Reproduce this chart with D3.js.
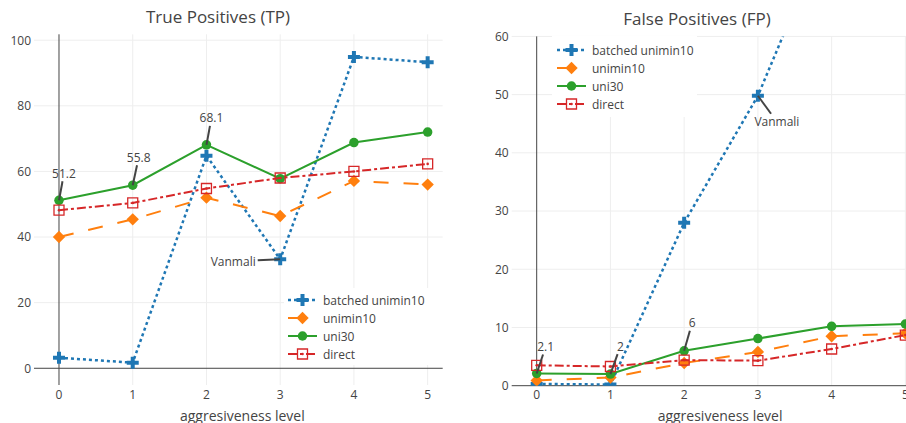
<!DOCTYPE html>
<html>
<head>
<meta charset="utf-8">
<script src="https://cdn.jsdelivr.net/npm/d3@7"></script>
<style>
  body { margin: 0; background: #fff; overflow: hidden; }
  svg { display: block; }
  text { font-family: "Open Sans", verdana, arial, sans-serif; fill: #444; }
</style>
</head>
<body>
<div id="viz"></div>
<script>
// aggresiveness levels on the x axis
var levels = [0, 1, 2, 3, 4, 5];
var xTicks = [0, 1, 2, 3, 4, 5];

// True positives
var tpBatched  = [3.2, 1.7, 64.8, 33.2, 94.9, 93.3];
var tpUnimin10 = [40.0, 45.4, 52.0, 46.4, 57.1, 56.0];
var tpUni30    = [51.2, 55.8, 68.1, 57.8, 68.8, 72.0];
var tpDirect   = [48.2, 50.4, 54.8, 58.0, 60.0, 62.3];
var tpTicks = [0, 20, 40, 60, 80, 100];

// False positives (batched goes off the top at 4 and 5, estimated)
var fpBatched  = [0.3, 0.2, 28.0, 49.8, 80.0, 100.0];
var fpUnimin10 = [0.9, 1.4, 3.9, 5.8, 8.5, 9.0];
var fpUni30    = [2.1, 2.0, 6.0, 8.1, 10.2, 10.6];
var fpDirect   = [3.5, 3.3, 4.4, 4.3, 6.3, 8.7];
var fpTicks = [0, 10, 20, 30, 40, 50, 60];

var seriesNames = ["batched unimin10", "unimin10", "uni30", "direct"];

// annotation texts with the point they belong to
var tpNotes = [[0, 51.2, "51.2"], [1, 55.8, "55.8"], [2, 68.1, "68.1"], [3, 33.2, "Vanmali"]];
var fpNotes = [[0, 2.1, "2.1"], [1, 2.0, "2"], [2, 6.0, "6"], [3, 49.8, "Vanmali"]];

var styles = [
    {color: "#1f77b4", dash: "3,3",        width: 2.5, symbol: "cross"},
    {color: "#ff7f0e", dash: "15,15",      width: 2,   symbol: "diamond"},
    {color: "#2ca02c", dash: null,         width: 2,   symbol: "circle"},
    {color: "#d62728", dash: "9,3,3,3",    width: 2,   symbol: "square-open-dot"}
];

function symbolPath(sym, size) {
    var r = size / 2;
    if (sym == "cross") {
        var rc = r * 0.4, rc2 = r * 1.2;
        return "M" + rc2 + "," + rc + "H" + rc + "V" + rc2 + "H-" + rc + "V" + rc + "H-" + rc2 +
               "V-" + rc + "H-" + rc + "V-" + rc2 + "H" + rc + "V-" + rc + "H" + rc2 + "Z";
    }
    if (sym == "diamond") {
        var rd = r * 1.3;
        return "M" + rd + ",0L0," + rd + "L-" + rd + ",0L0,-" + rd + "Z";
    }
    if (sym == "circle") {
        return "M" + r + ",0A" + r + "," + r + " 0 1,1 0,-" + r + "A" + r + "," + r + " 0 0,1 " + r + ",0Z";
    }
    return "M" + r + "," + r + "H-" + r + "V-" + r + "H" + r + "Z";
}

function addMarker(g, st, x, y) {
    if (st.symbol == "square-open-dot") {
        g.append("path").attr("d", symbolPath("square", 10))
            .attr("transform", "translate(" + x + "," + y + ")")
            .attr("fill", "none").attr("stroke", st.color).attr("stroke-width", 1.3);
        g.append("circle").attr("cx", x).attr("cy", y).attr("r", 1.3).attr("fill", st.color);
    } else {
        g.append("path").attr("d", symbolPath(st.symbol, st.symbol == "cross" ? 10 : 9.5))
            .attr("transform", "translate(" + x + "," + y + ")")
            .attr("fill", st.color);
    }
}

var svg = d3.select("#viz").append("svg").attr("width", 906).attr("height", 423);

function drawPanel(p) {
    var x = d3.scaleLinear().domain(p.xDomain).range(p.xRange);
    var y = d3.scaleLinear().domain(p.yDomain).range(p.yRange);
    var g = svg.append("g");

    var clipId = "clip" + p.id;
    svg.append("clipPath").attr("id", clipId).append("rect")
        .attr("x", p.xRange[0]).attr("y", p.yRange[1])
        .attr("width", p.xRange[1] - p.xRange[0]).attr("height", p.yRange[0] - p.yRange[1]);

    // grid
    g.selectAll(".gx").data(xTicks.filter(function(d) { return d != 0; })).enter().append("line")
        .attr("x1", x).attr("x2", x).attr("y1", p.yRange[1]).attr("y2", p.yRange[0])
        .attr("stroke", "#eee");
    g.selectAll(".gy").data(p.yTicks.filter(function(d) { return d != 0; })).enter().append("line")
        .attr("x1", p.xRange[0]).attr("x2", p.xRange[1]).attr("y1", y).attr("y2", y)
        .attr("stroke", "#eee");

    // legend background covers the grid
    g.append("rect").attr("x", p.legendBox[0]).attr("y", p.legendBox[1])
        .attr("width", p.legendBox[2]).attr("height", p.legendBox[3]).attr("fill", "#fff");

    // zero lines
    g.append("line").attr("x1", x(0)).attr("x2", x(0)).attr("y1", p.yRange[1]).attr("y2", p.yRange[0])
        .attr("stroke", "#444");
    g.append("line").attr("x1", p.xRange[0]).attr("x2", p.xRange[1]).attr("y1", y(0)).attr("y2", y(0))
        .attr("stroke", "#444");

    // tick labels
    g.selectAll(".tx").data(xTicks).enter().append("text")
        .attr("x", x).attr("y", p.yRange[0] + 13.5)
        .attr("text-anchor", "middle").attr("font-size", 12).text(function(d) { return d; });
    g.selectAll(".ty").data(p.yTicks).enter().append("text")
        .attr("x", p.xRange[0] - 3).attr("y", function(d) { return y(d) + 4.3; })
        .attr("text-anchor", "end").attr("font-size", 12).text(function(d) { return d; });

    // titles
    g.append("text").attr("x", p.titleX).attr("y", p.titleY).attr("text-anchor", "middle")
        .attr("font-size", 17).text(p.title);
    g.append("text").attr("x", (p.xRange[0] + p.xRange[1]) / 2 + 4).attr("y", p.yRange[0] + 35.5)
        .attr("text-anchor", "middle").attr("font-size", 14).text("aggresiveness level");

    // traces
    var plot = g.append("g").attr("clip-path", "url(#" + clipId + ")");
    p.series.forEach(function(vals, i) {
        var st = styles[i];
        var tg = plot.append("g");
        var line = d3.line().x(function(d, j) { return x(levels[j]); }).y(function(d) { return y(d); });
        tg.append("path").attr("d", line(vals)).attr("fill", "none")
            .attr("stroke", st.color).attr("stroke-width", st.width)
            .attr("stroke-dasharray", st.dash);
        vals.forEach(function(v, j) { addMarker(tg, st, x(levels[j]), y(v)); });
    });

    // annotations
    p.notes.forEach(function(n, i) {
        var px = x(n[0]), py = y(n[1]);
        var ax = p.noteOffsets[i][0], ay = p.noteOffsets[i][1];
        var t = g.append("text").attr("x", px + ax).attr("y", py + ay + 4.5)
            .attr("text-anchor", "middle").attr("font-size", 12).text(n[2]);
        var hw = t.node().getComputedTextLength() / 2 + 2, hh = 8;
        var s = Math.min(Math.abs(ax) > 0 ? hw / Math.abs(ax) : 1, Math.abs(ay) > 0 ? hh / Math.abs(ay) : 1);
        g.append("line")
            .attr("x1", px + ax - ax * s).attr("y1", py + ay - ay * s)
            .attr("x2", px).attr("y2", py)
            .attr("stroke", "#444").attr("stroke-width", 2);
    });

    // legend
    seriesNames.forEach(function(name, i) {
        var st = styles[i];
        var ly = p.legendY + i * 18;
        var lg = g.append("g");
        lg.append("line").attr("x1", p.legendX).attr("x2", p.legendX + 29).attr("y1", ly).attr("y2", ly)
            .attr("stroke", st.color).attr("stroke-width", st.width).attr("stroke-dasharray", st.dash);
        addMarker(lg, st, p.legendX + 14.5, ly);
        lg.append("text").attr("x", p.legendX + 35).attr("y", ly + 4.5).attr("font-size", 12).text(name);
    });
}

drawPanel({
    id: "tp", title: "True Positives (TP)", titleX: 218, titleY: 23,
    xDomain: [-0.339, 5.204], xRange: [34, 442.7],
    yDomain: [-5.1, 101.8], yRange: [385, 34.3],
    yTicks: tpTicks,
    series: [tpBatched, tpUnimin10, tpUni30, tpDirect],
    notes: tpNotes,
    noteOffsets: [[5, -27], [6, -28], [5, -27], [-47, 2]],
    legendX: 288, legendY: 300, legendBox: [284, 288, 160, 77]
});

drawPanel({
    id: "fp", title: "False Positives (FP)", titleX: 697, titleY: 25,
    xDomain: [-0.339, 5.204], xRange: [511.7, 920.4],
    yDomain: [0, 60], yRange: [385.7, 36.4],
    yTicks: fpTicks,
    series: [fpBatched, fpUnimin10, fpUni30, fpDirect],
    notes: fpNotes,
    noteOffsets: [[9, -27], [10, -28], [8, -28], [19, 26]],
    legendX: 557, legendY: 50, legendBox: [552, 36, 145, 81]
});
</script>
</body>
</html>
